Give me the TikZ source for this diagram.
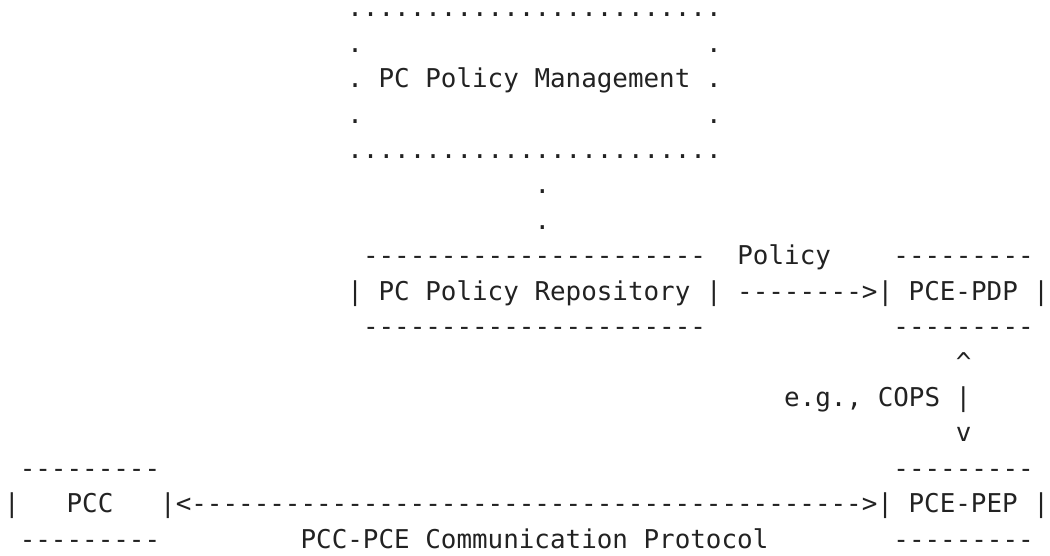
\documentclass[tikz,border=0pt]{standalone}
\usepackage{fontspec}
\setmonofont{DejaVu Sans Mono}
\usepackage{xcolor}
\definecolor{ink}{RGB}{34,34,34}
\tikzset{
  txt/.style={anchor=base west, inner sep=0pt, outer sep=0pt, text=ink,
    font=\ttfamily\fontsize{25.9pt}{35pt}\selectfont},
}

\begin{document}
\begin{tikzpicture}[x=15.6pt, y=-35.4pt]
   \useasboundingbox (0pt,0pt) rectangle (1050pt,-556pt);
   \begin{scope}[shift={(4.2pt,-17pt)}]
   % policy management
   \node[txt] (pm_top)   at (22,0) {........................};
   \node[txt] (pm_l1)    at (22,1) {.};
   \node[txt] (pm_r1)    at (45,1) {.};
   \node[txt] (pm_mid)   at (22,2) {. PC Policy Management .};
   \node[txt] (pm_l2)    at (22,3) {.};
   \node[txt] (pm_r2)    at (45,3) {.};
   \node[txt] (pm_bot)   at (22,4) {........................};
   \node[txt] (pm_link1) at (34,5) {.};
   \node[txt] (pm_link2) at (34,6) {.};
   % repository and pdp
   \node[txt] (repo_top) at (23,7) {----------------------};
   \node[txt] (policy)   at (47,7) {Policy};
   \node[txt] (pdp_top)  at (57,7) {---------};
   \node[txt] (repo)     at (22,8) {| PC Policy Repository | -------->| PCE-PDP |};
   \node[txt] (repo_bot) at (23,9) {----------------------};
   \node[txt] (pdp_bot)  at (57,9) {---------};
   % cops
   \node[txt] (cops_up)  at (61,10) {\symbol{94}};
   \node[txt] (cops)     at (50,11) {e.g., COPS |};
   \node[txt] (cops_dn)  at (61,12) {v};
   % pcc and pep
   \node[txt] (pcc_top)  at (1,13) {---------};
   \node[txt] (pep_top)  at (57,13) {---------};
   \node[txt] (pcc_l)    at (0,14) {|};
   \node[txt] (pcc)      at (4,14) {PCC};
   \node[txt] (pep)      at (10,14) {|<------------------------------------------->| PCE-PEP |};
   \node[txt] (pcc_bot)  at (1,15) {---------};
   \node[txt] (proto)    at (19,15) {PCC-PCE Communication Protocol};
   \node[txt] (pep_bot)  at (57,15) {---------};
   \end{scope}
\end{tikzpicture}
\end{document}
